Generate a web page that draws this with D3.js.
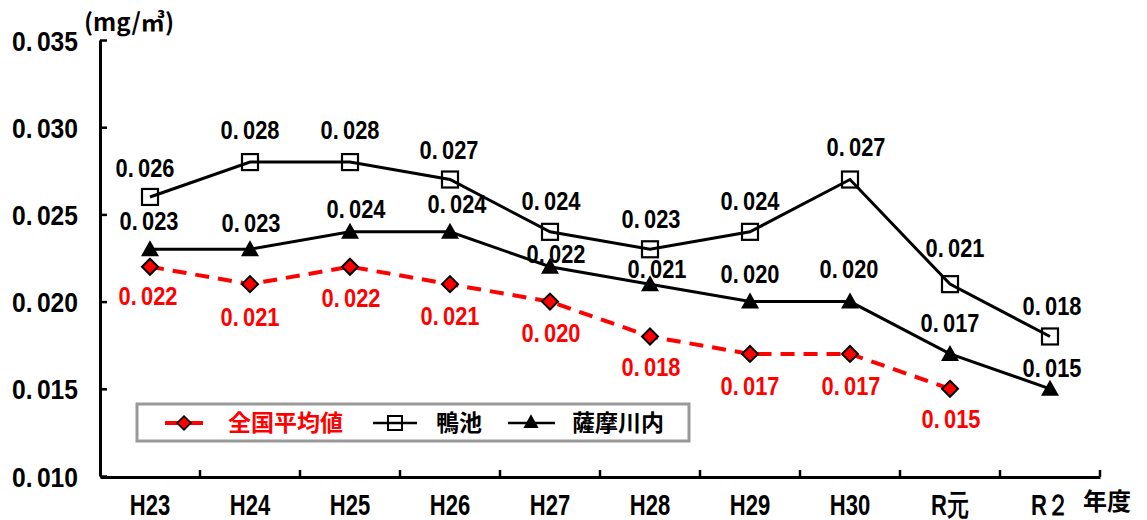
<!DOCTYPE html>
<html><head><meta charset="utf-8">
<script src="https://cdn.jsdelivr.net/npm/d3@7"></script>
<style>
body{margin:0;background:#fff;}
svg{display:block;}
.num{font-family:"Liberation Sans",Arial,sans-serif;font-weight:bold;}
.jp{font-family:"Noto Sans CJK JP",sans-serif;font-weight:bold;}
</style></head>
<body>
<svg id="c" width="1147" height="520"></svg>
<script>
const years = ["H23","H24","H25","H26","H27","H28","H29","H30","R元","R２"];
const kamoike = [0.026,0.028,0.028,0.027,0.024,0.023,0.024,0.027,0.021,0.018];
const satsuma = [0.023,0.023,0.024,0.024,0.022,0.021,0.020,0.020,0.017,0.015];
const national = [0.022,0.021,0.022,0.021,0.020,0.018,0.017,0.017,0.015,null];
const yTicks = [0.010,0.015,0.020,0.025,0.030,0.035];
const seriesNames = ["全国平均値","鴨池","薩摩川内"];
const unitLabel = "(mg/㎥)";
const xUnit = "年度";

// label nudges (px) – layout only
const kamoikeLblDx = [-5,0,0,-1,1,1,0,6,5,2];
const kamoikeLblDy = [-20,-23,-23,-21,-22,-21,-22,-24,-27,-21];
const satsumaLblDx = [-1,1,6,7,6,7,0,-1,0,2];
const satsumaLblDy = [-19,-17,-14,-19,-4,-6,-19,-24,-22,-12];
const nationalLblDx = [-2,0,1,0,1,1,0,1,1,0];
const nationalLblDy = [38,42,40,41,40,40,41,41,39,0];

const svg = d3.select("#c");
const x = d3.scaleBand().domain(years).range([100,1100]);
const cx = d => x(d) + x.bandwidth()/2;
const y = d3.scaleLinear().domain([0.010,0.035]).range([476,40]);
const fmt = d3.format(".3f");

// draws a number like "0. 026" (narrow, bold)
function numText(parent, px, py, str, size, sx, anchor, color){
  const g = parent.append("g").attr("transform",`translate(${px},${py}) scale(${sx},1)`);
  const t = g.append("text").attr("class","num").attr("font-size",size).attr("fill",color).attr("text-anchor",anchor);
  const dot = str.indexOf(".");
  if(dot>=0){
    t.append("tspan").text(str.slice(0,dot+1));
    t.append("tspan").attr("dx",5).text(str.slice(dot+1));
  } else t.text(str);
  return t;
}

// Y axis
const yAxis = d3.axisLeft(y).tickValues(yTicks).tickSizeInner(-7).tickSizeOuter(0).tickFormat("");
const gy = svg.append("g").attr("transform","translate(100,0)").call(yAxis);
gy.select(".domain").attr("stroke","#000").attr("stroke-width",3);
gy.selectAll(".tick line").attr("stroke","#000").attr("stroke-width",2.5);
gy.selectAll(".tick text").remove();
gy.selectAll(".tick").each(function(d){
  numText(d3.select(this), -22, 10, fmt(d), 28, 0.88, "end", "#000");
});

// X axis
const xAxis = d3.axisBottom(x).tickSize(0).tickFormat("");
const gx = svg.append("g").attr("transform","translate(0,477)").call(xAxis);
gx.select(".domain").attr("stroke","#000").attr("stroke-width",3);
gx.selectAll(".tick text").remove();
gx.selectAll(".tick").each(function(d){
  numText(d3.select(this), 0, 38, d, 29, 0.76, "middle", "#000");
});
const bounds = years.map(d => x(d) + x.step());
svg.append("g").selectAll("line").data(bounds).join("line")
  .attr("x1",d=>d).attr("x2",d=>d).attr("y1",477).attr("y2",470)
  .attr("stroke","#000").attr("stroke-width",2.5);

// unit labels
svg.append("text").attr("class","jp").attr("x",84).attr("y",31).attr("font-size",24).attr("textLength",90).attr("lengthAdjust","spacingAndGlyphs").text(unitLabel);
svg.append("text").attr("class","jp").attr("x",1083).attr("y",510).attr("font-size",24).text(xUnit);

const line = d3.line().defined(d=>d.v!=null).x(d=>cx(years[d.i])).y(d=>y(d.v));
const toPts = arr => arr.map((v,i)=>({v,i}));

// lines
svg.append("path").datum(toPts(national)).attr("d",line).attr("fill","none")
  .attr("stroke","#ff0000").attr("stroke-width",4).attr("stroke-dasharray","14,9");
svg.append("path").datum(toPts(satsuma)).attr("d",line).attr("fill","none")
  .attr("stroke","#000").attr("stroke-width",3);
svg.append("path").datum(toPts(kamoike)).attr("d",line).attr("fill","none")
  .attr("stroke","#000").attr("stroke-width",3);

// markers
const diamond = "M0,-8L8,0L0,8L-8,0Z";
const tri = "M0,-9L9,7L-9,7Z";
svg.append("g").selectAll("path").data(toPts(national).filter(d=>d.v!=null)).join("path")
  .attr("d",diamond).attr("transform",d=>`translate(${cx(years[d.i])},${y(d.v)})`)
  .attr("fill","#ff0000").attr("stroke","#000").attr("stroke-width",2);
svg.append("g").selectAll("path").data(toPts(satsuma)).join("path")
  .attr("d",tri).attr("transform",d=>`translate(${cx(years[d.i])},${y(d.v)})`)
  .attr("fill","#000");
svg.append("g").selectAll("rect").data(toPts(kamoike)).join("rect")
  .attr("x",d=>cx(years[d.i])-8).attr("y",d=>y(d.v)-8).attr("width",16).attr("height",16)
  .attr("fill","none").attr("stroke","#000").attr("stroke-width",2.2);

// value labels
function valLabels(data, ddx, ddy, color){
  const g = svg.append("g");
  data.forEach((v,i)=>{
    if(v==null) return;
    numText(g, cx(years[i])+ddx[i], y(v)+ddy[i], fmt(v), 26, 0.84, "middle", color);
  });
}
valLabels(kamoike, kamoikeLblDx, kamoikeLblDy, "#000");
valLabels(satsuma, satsumaLblDx, satsumaLblDy, "#000");
valLabels(national, nationalLblDx, nationalLblDy, "#ff0000");

// Legend
const lg = svg.append("g");
lg.append("rect").attr("x",137).attr("y",404).attr("width",552).attr("height",37)
  .attr("fill","#fff").attr("stroke","#999").attr("stroke-width",3);
const ly = 423;
lg.append("line").attr("x1",165).attr("x2",203).attr("y1",ly).attr("y2",ly).attr("stroke","#ff0000").attr("stroke-width",4);
lg.append("path").attr("d",diamond).attr("transform",`translate(184,${ly}) scale(0.85)`).attr("fill","#ff0000").attr("stroke","#000").attr("stroke-width",2);
lg.append("text").attr("class","jp").attr("x",228).attr("y",ly+8).attr("font-size",23).attr("fill","#ff0000").text(seriesNames[0]);
lg.append("line").attr("x1",373).attr("x2",417).attr("y1",ly).attr("y2",ly).attr("stroke","#000").attr("stroke-width",2.5);
lg.append("rect").attr("x",388).attr("y",ly-7).attr("width",14).attr("height",14).attr("fill","none").attr("stroke","#000").attr("stroke-width",2);
lg.append("text").attr("class","jp").attr("x",436).attr("y",ly+8).attr("font-size",23).attr("fill","#000").text(seriesNames[1]);
lg.append("line").attr("x1",508).attr("x2",555).attr("y1",ly).attr("y2",ly).attr("stroke","#000").attr("stroke-width",2.5);
lg.append("path").attr("d",tri).attr("transform",`translate(531,${ly-1}) scale(0.85)`).attr("fill","#000");
lg.append("text").attr("class","jp").attr("x",572).attr("y",ly+8).attr("font-size",23).attr("fill","#000").text(seriesNames[2]);
</script>
</body></html>
